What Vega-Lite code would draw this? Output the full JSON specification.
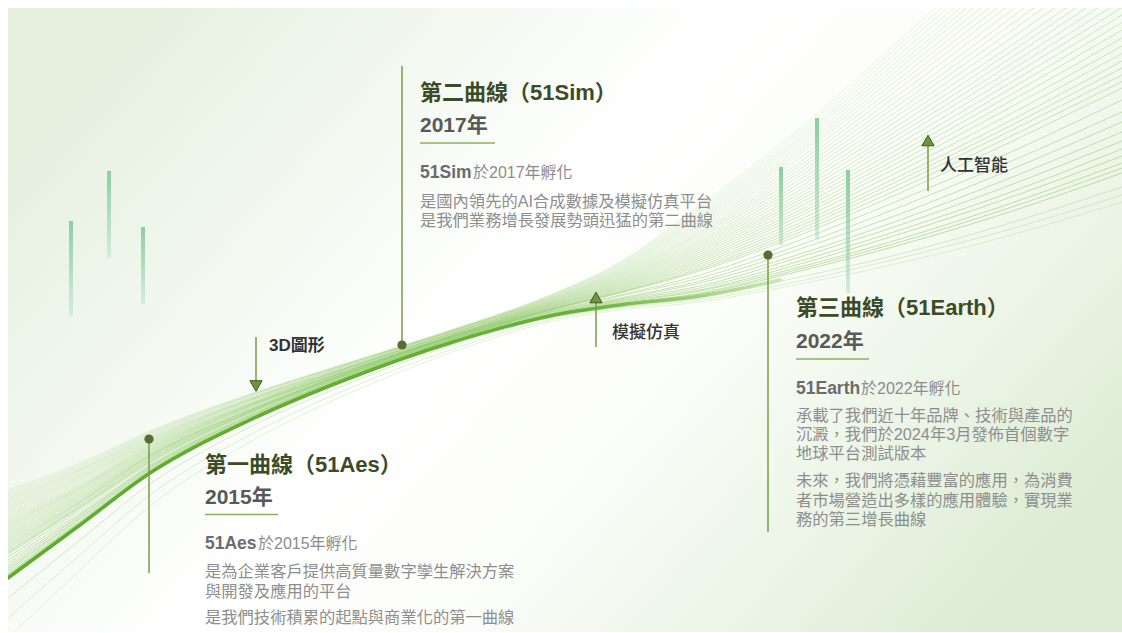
{
  "$schema": "https://vega.github.io/schema/vega-lite/v6.json",
  "width": 1122,
  "height": 633,
  "autosize": {"type": "fit", "contains": "padding"},
  "padding": {"left": 8, "top": 8, "right": 0, "bottom": 1},
  "background": "#ffffff",
  "config": {"view": {"stroke": null}},
  "datasets": {
    "panel": [{"x": 8, "x2": 1122, "y": 8, "y2": 632}],
    "curves": [
      {"g": "f01", "t": 0.02, "xs": [8,80,150,250,350,450,550,620,700,800,900,1000,1122], "ys": [576,524,472,420,378,343,316,304,294,271,245,215,173]},
      {"g": "f01b", "t": 0.035, "xs": [8,80,150,250,350,450,550,620,700,800,900,1000,1122], "ys": [575,523,472,419,377,343,315,304,293,269,242,211,168]},
      {"g": "f02", "t": 0.05, "xs": [8,80,150,250,350,450,550,620,700,800,900,1000,1122], "ys": [574,522,471,419,377,342,315,303,291,267,239,207,163]},
      {"g": "f02b", "t": 0.07, "xs": [8,80,150,250,350,450,550,620,700,800,900,1000,1122], "ys": [572,521,470,418,377,342,315,302,290,264,234,201,156]},
      {"g": "f03", "t": 0.09, "xs": [8,80,150,250,350,450,550,620,700,800,900,1000,1122], "ys": [570,519,469,418,377,342,314,301,288,261,230,196,149]},
      {"g": "f03b", "t": 0.115, "xs": [8,80,150,250,350,450,550,620,700,800,900,1000,1122], "ys": [568,518,468,417,376,342,314,300,286,257,225,189,141]},
      {"g": "f04", "t": 0.14, "xs": [8,80,150,250,350,450,550,620,700,800,900,1000,1122], "ys": [566,516,467,416,376,341,313,299,283,254,220,182,132]},
      {"g": "f04b", "t": 0.17, "xs": [8,80,150,250,350,450,550,620,700,800,900,1000,1122], "ys": [563,515,466,416,375,341,312,298,281,249,214,174,122]},
      {"g": "f05", "t": 0.2, "xs": [8,80,150,250,350,450,550,620,700,800,900,1000,1122], "ys": [560,513,465,415,375,340,312,296,278,245,207,166,112]},
      {"g": "f05b", "t": 0.235, "xs": [8,80,150,250,350,450,550,620,700,800,900,1000,1122], "ys": [557,510,463,414,374,340,311,295,275,240,200,157,100]},
      {"g": "f06", "t": 0.27, "xs": [8,80,150,250,350,450,550,620,700,800,900,1000,1122], "ys": [554,508,462,413,374,340,310,293,271,235,193,147,88]},
      {"g": "f06a", "t": 0.29, "xs": [8,80,150,250,350,450,550,620,700,800,900,1000,1122], "ys": [552.5,507,461,412.5,373.5,339.5,310,292.5,269.5,232,188.5,141.5,81.5]},
      {"g": "f06b", "t": 0.31, "xs": [8,80,150,250,350,450,550,620,700,800,900,1000,1122], "ys": [551,506,460,412,373,339,310,292,268,229,184,136,75]},
      {"g": "f06c", "t": 0.33, "xs": [8,80,150,250,350,450,550,620,700,800,900,1000,1122], "ys": [549,504.5,459,411.5,372.5,338.5,309.5,291,266,226,180,131,68]},
      {"g": "f07", "t": 0.35, "xs": [8,80,150,250,350,450,550,620,700,800,900,1000,1122], "ys": [547,503,458,411,372,338,309,290,264,223,176,126,61]},
      {"g": "f07a", "t": 0.3725, "xs": [8,80,150,250,350,450,550,620,700,800,900,1000,1122], "ys": [545,502,457,410.5,372,338,308.5,289,262,219.5,171,119.5,53.5]},
      {"g": "f07b", "t": 0.395, "xs": [8,80,150,250,350,450,550,620,700,800,900,1000,1122], "ys": [543,501,456,410,372,338,308,288,260,216,166,113,46]},
      {"g": "f07c", "t": 0.4175, "xs": [8,80,150,250,350,450,550,620,700,800,900,1000,1122], "ys": [541,499.5,455.5,409.5,371.5,337.5,307.5,287,258,213,161.5,107,38]},
      {"g": "f08", "t": 0.44, "xs": [8,80,150,250,350,450,550,620,700,800,900,1000,1122], "ys": [539,498,455,409,371,337,307,286,256,210,157,101,30]},
      {"g": "f08a", "t": 0.4625, "xs": [8,80,150,250,350,450,550,620,700,800,900,1000,1122], "ys": [537,496.5,454,408,370.5,337,306.5,285,254,206.5,152.5,95,22.5]},
      {"g": "f08b", "t": 0.485, "xs": [8,80,150,250,350,450,550,620,700,800,900,1000,1122], "ys": [535,495,453,407,370,337,306,284,252,203,148,89,15]},
      {"g": "f08c", "t": 0.5075, "xs": [8,80,150,250,350,450,550,620,700,800,900,1000,1122], "ys": [533,493.5,452,406.5,370,336.5,305.5,283,250,200,143,83,7.5]},
      {"g": "f09", "t": 0.53, "xs": [8,80,150,250,350,450,550,620,700,800,900,1000,1122], "ys": [531,492,451,406,370,336,305,282,248,197,138,77,0]},
      {"g": "f09a", "t": 0.5525, "xs": [8,80,150,250,350,450,550,620,700,800,900,1000,1122], "ys": [529,490.5,450,405.5,369.5,336,304.5,281,246,193.5,133.5,71,-8]},
      {"g": "f09b", "t": 0.575, "xs": [8,80,150,250,350,450,550,620,700,800,900,1000,1122], "ys": [527,489,449,405,369,336,304,280,244,190,129,65,-16]},
      {"g": "f09c", "t": 0.5975, "xs": [8,80,150,250,350,450,550,620,700,800,900,1000,1122], "ys": [525,488,448,404.5,368.5,335.5,303.5,279,242,186.5,124,59,-23.5]},
      {"g": "f10", "t": 0.62, "xs": [8,80,150,250,350,450,550,620,700,800,900,1000,1122], "ys": [523,487,447,404,368,335,303,278,240,183,119,53,-31]},
      {"g": "f10a", "t": 0.645, "xs": [8,80,150,250,350,450,550,620,700,800,900,1000,1122], "ys": [521,485.5,446,403.5,367.5,334.5,302.5,277,237.5,179.5,114,46,-39.5]},
      {"g": "f10b", "t": 0.67, "xs": [8,80,150,250,350,450,550,620,700,800,900,1000,1122], "ys": [519,484,445,403,367,334,302,276,235,176,109,39,-48]},
      {"g": "f10c", "t": 0.695, "xs": [8,80,150,250,350,450,550,620,700,800,900,1000,1122], "ys": [517,482,444,402,367,334,301.5,275,233,172.5,104,32.5,-56.5]},
      {"g": "f11", "t": 0.72, "xs": [8,80,150,250,350,450,550,620,700,800,900,1000,1122], "ys": [515,480,443,401,367,334,301,274,231,169,99,26,-65]},
      {"g": "f11a", "t": 0.745, "xs": [8,80,150,250,350,450,550,620,700,800,900,1000,1122], "ys": [512.5,478.5,442,400.5,366.5,333.5,300.5,273,228.5,165.5,93.5,19,-73.5]},
      {"g": "f11b", "t": 0.77, "xs": [8,80,150,250,350,450,550,620,700,800,900,1000,1122], "ys": [510,477,441,400,366,333,300,272,226,162,88,12,-82]},
      {"g": "f11c", "t": 0.795, "xs": [8,80,150,250,350,450,550,620,700,800,900,1000,1122], "ys": [508,475.5,440,399.5,365.5,332.5,299.5,271,223.5,158,83,5.5,-90.5]},
      {"g": "f12", "t": 0.82, "xs": [8,80,150,250,350,450,550,620,700,800,900,1000,1122], "ys": [506,474,439,399,365,332,299,270,221,154,78,-1,-99]},
      {"g": "f12a", "t": 0.8425, "xs": [8,80,150,250,350,450,550,620,700,800,900,1000,1122], "ys": [504,472.5,438,398.5,364.5,332,298.5,269,219,151,73,-7.5,-106.5]},
      {"g": "f12b", "t": 0.865, "xs": [8,80,150,250,350,450,550,620,700,800,900,1000,1122], "ys": [502,471,437,398,364,332,298,268,217,148,68,-14,-114]},
      {"g": "f12c", "t": 0.8875, "xs": [8,80,150,250,350,450,550,620,700,800,900,1000,1122], "ys": [500,470,436,397,363.5,331.5,297.5,267,215,144.5,63.5,-20,-121.5]},
      {"g": "f13", "t": 0.91, "xs": [8,80,150,250,350,450,550,620,700,800,900,1000,1122], "ys": [498,469,435,396,363,331,297,266,213,141,59,-26,-129]},
      {"g": "f13a", "t": 0.9325, "xs": [8,80,150,250,350,450,550,620,700,800,900,1000,1122], "ys": [496,467.5,434,395.5,363,331,296.5,265,211,138,54,-32,-137]},
      {"g": "f13b", "t": 0.955, "xs": [8,80,150,250,350,450,550,620,700,800,900,1000,1122], "ys": [494,466,433,395,363,331,296,264,209,135,49,-38,-145]},
      {"g": "f13c", "t": 0.9775, "xs": [8,80,150,250,350,450,550,620,700,800,900,1000,1122], "ys": [492,464.5,432,394.5,362.5,330.5,295.5,263,207,131.5,44.5,-44,-152.5]},
      {"g": "f14", "t": 1.0, "xs": [8,80,150,250,350,450,550,620,700,800,900,1000,1122], "ys": [490,463,431,394,362,330,295,262,205,128,40,-50,-160]},
      {"g": "l1", "t": 0.6, "xs": [8,80,150,250,350,450,550,620,700,800,900,1000,1122], "ys": [598,540,484,427,383,346,318,307,298,277,254,226,187]},
      {"g": "l2", "t": 0.75, "xs": [8,80,150,250,350,450,550,620,700,800,900,1000,1122], "ys": [618,555,495,435,388,350,320,308,300,281,258,232,195]},
      {"g": "l3", "t": 0.9, "xs": [8,80,150,250,350,450,550,620,700,800,900,1000,1122], "ys": [638,570,506,442,393,353,322,310,302,284,263,238,202]}
    ],
    "core": [
      {"g": "core", "xs": [8,80,150,250,350,450,550,620,700,780], "ys": [578,525,473,420,378,343,316,305,296,280]}
    ],
    "bars": [
      {"x": 71, "y": 221, "y2": 316},
      {"x": 109, "y": 171, "y2": 258},
      {"x": 143, "y": 227, "y2": 304},
      {"x": 781, "y": 167, "y2": 245},
      {"x": 817, "y": 118, "y2": 239},
      {"x": 848, "y": 170, "y2": 293}
    ],
    "stems": [
      {"kind": "timeline", "x": 149, "y": 439, "y2": 573},
      {"kind": "timeline", "x": 402, "y": 66, "y2": 345},
      {"kind": "timeline", "x": 768, "y": 255, "y2": 532},
      {"kind": "arrow", "x": 256, "y": 337, "y2": 381},
      {"kind": "arrow", "x": 596, "y": 302, "y2": 347},
      {"kind": "arrow", "x": 928, "y": 146, "y2": 191}
    ],
    "underlines": [
      {"x": 420, "x2": 495, "y": 143},
      {"x": 796, "x2": 869, "y": 359},
      {"x": 205, "x2": 278, "y": 514.5}
    ],
    "dots": [
      {"name": "51Aes", "x": 149, "y": 439},
      {"name": "51Sim", "x": 402, "y": 345},
      {"name": "51Earth", "x": 768, "y": 255}
    ],
    "heads": [
      {"label": "3D圖形", "dir": "down", "x": 256, "y": 386},
      {"label": "模擬仿真", "dir": "up", "x": 596, "y": 297.5},
      {"label": "人工智能", "dir": "up", "x": 928, "y": 140.5}
    ],
    "texts": [
      {"k": "title", "x": 420, "y": 93, "text": "第二曲線（51Sim）"},
      {"k": "year", "x": 420, "y": 125.5, "text": "2017年"},
      {"k": "lead", "x": 420, "y": 173, "text": "51Sim"},
      {"k": "rest", "x": 473, "y": 173, "text": "於2017年孵化"},
      {"k": "body", "x": 420, "y": 201.5, "text": "是國內領先的AI合成數據及模擬仿真平台"},
      {"k": "body", "x": 420, "y": 221, "text": "是我們業務增長發展勢頭迅猛的第二曲線"},
      {"k": "title", "x": 796, "y": 308, "text": "第三曲線（51Earth）"},
      {"k": "year", "x": 796, "y": 341.5, "text": "2022年"},
      {"k": "lead", "x": 796, "y": 389, "text": "51Earth"},
      {"k": "rest", "x": 861, "y": 389, "text": "於2022年孵化"},
      {"k": "body", "x": 796, "y": 415.5, "text": "承載了我們近十年品牌、技術與產品的"},
      {"k": "body", "x": 796, "y": 435, "text": "沉澱，我們於2024年3月發佈首個數字"},
      {"k": "body", "x": 796, "y": 454, "text": "地球平台測試版本"},
      {"k": "body", "x": 796, "y": 481, "text": "未來，我們將憑藉豐富的應用，為消費"},
      {"k": "body", "x": 796, "y": 500.5, "text": "者市場營造出多樣的應用體驗，實現業"},
      {"k": "body", "x": 796, "y": 520, "text": "務的第三增長曲線"},
      {"k": "title", "x": 205, "y": 465, "text": "第一曲線（51Aes）"},
      {"k": "year", "x": 205, "y": 497.5, "text": "2015年"},
      {"k": "lead", "x": 205, "y": 544, "text": "51Aes"},
      {"k": "rest", "x": 258, "y": 544, "text": "於2015年孵化"},
      {"k": "body", "x": 205, "y": 572, "text": "是為企業客戶提供高質量數字孿生解決方案"},
      {"k": "body", "x": 205, "y": 591.5, "text": "與開發及應用的平台"},
      {"k": "body", "x": 205, "y": 618, "text": "是我們技術積累的起點與商業化的第一曲線"},
      {"k": "labelb", "x": 269, "y": 346, "text": "3D圖形"},
      {"k": "label", "x": 612, "y": 333, "text": "模擬仿真"},
      {"k": "label", "x": 940, "y": 166, "text": "人工智能"}
    ]
  },
  "encoding": {
    "x": {"field": "x", "type": "quantitative", "scale": {"domain": [8, 1122], "nice": false, "zero": false, "padding": 0}, "axis": null},
    "y": {"field": "y", "type": "quantitative", "scale": {"domain": [8, 632], "nice": false, "zero": false, "reverse": true, "padding": 0}, "axis": null}
  },
  "layer": [
    {
      "data": {"name": "panel"},
      "mark": {"type": "rect", "color": {"gradient": "linear", "x1": 0, "y1": 0.25, "x2": 1, "y2": 0.75, "stops": [{"offset": 0, "color": "#e5f0df"}, {"offset": 0.42, "color": "#ffffff"}, {"offset": 0.62, "color": "#fbfdf9"}, {"offset": 1, "color": "#dcecd4"}]}},
      "encoding": {"x2": {"field": "x2"}, "y2": {"field": "y2"}}
    },
    {
      "data": {"name": "bars"},
      "mark": {"type": "bar", "width": 4, "color": {"gradient": "linear", "x1": 0, "y1": 0, "x2": 0, "y2": 1, "stops": [{"offset": 0, "color": "#8ccfa4"}, {"offset": 1, "color": "#d4ecdc"}]}},
      "encoding": {"y2": {"field": "y2"}}
    },
    {
      "data": {"name": "curves"},
      "transform": [{"flatten": ["xs", "ys"], "as": ["x", "y"]}],
      "mark": {"type": "line", "clip": true, "interpolate": "monotone", "strokeWidth": 0.6, "color": "#86c35b"},
      "encoding": {
        "detail": {"field": "g", "type": "nominal"},
        "opacity": {"field": "t", "type": "quantitative", "scale": {"domain": [0, 1], "range": [0.85, 0.3]}, "legend": null},
        "order": {"field": "x", "type": "quantitative"}
      }
    },
    {
      "data": {"name": "core"},
      "transform": [{"flatten": ["xs", "ys"], "as": ["x", "y"]}],
      "mark": {"type": "line", "clip": true, "interpolate": "monotone", "strokeWidth": 3.5, "strokeCap": "round", "color": {"gradient": "linear", "x1": 0, "y1": 0, "x2": 1, "y2": 0, "stops": [{"offset": 0, "color": "#5fab2e"}, {"offset": 0.75, "color": "#67b236"}, {"offset": 1, "color": "#cbe8b5"}]}},
      "encoding": {"order": {"field": "x", "type": "quantitative"}}
    },
    {
      "data": {"name": "stems"},
      "mark": {"type": "rule", "color": "#7a9b46", "strokeWidth": 1.5},
      "encoding": {"y2": {"field": "y2"}}
    },
    {
      "data": {"name": "underlines"},
      "mark": {"type": "rule", "color": "#8fae5c", "strokeWidth": 1.5},
      "encoding": {"x2": {"field": "x2"}}
    },
    {
      "data": {"name": "heads"},
      "mark": {"type": "point", "filled": true, "size": 150, "color": "#6d973b", "stroke": "#3f5521", "strokeWidth": 1, "opacity": 1},
      "encoding": {"shape": {"field": "dir", "type": "nominal", "scale": {"domain": ["down", "up"], "range": ["triangle-down", "triangle-up"]}, "legend": null}}
    },
    {
      "data": {"name": "dots"},
      "mark": {"type": "point", "filled": true, "shape": "circle", "size": 85, "color": "#5a6c34", "opacity": 1}
    },
    {
      "data": {"name": "texts"},
      "transform": [{"filter": "datum.k == 'title'"}],
      "mark": {"type": "text", "align": "left", "baseline": "middle", "font": "Liberation Sans, Noto Sans CJK TC", "fontSize": 22, "fontWeight": "bold", "color": "#3c4b27"},
      "encoding": {"text": {"field": "text"}}
    },
    {
      "data": {"name": "texts"},
      "transform": [{"filter": "datum.k == 'year'"}],
      "mark": {"type": "text", "align": "left", "baseline": "middle", "font": "Liberation Sans, Noto Sans CJK TC", "fontSize": 21, "fontWeight": "bold", "color": "#595959"},
      "encoding": {"text": {"field": "text"}}
    },
    {
      "data": {"name": "texts"},
      "transform": [{"filter": "datum.k == 'lead'"}],
      "mark": {"type": "text", "align": "left", "baseline": "middle", "font": "Liberation Sans, Noto Sans CJK TC", "fontSize": 17.5, "fontWeight": "bold", "color": "#6c6c6c"},
      "encoding": {"text": {"field": "text"}}
    },
    {
      "data": {"name": "texts"},
      "transform": [{"filter": "datum.k == 'rest'"}],
      "mark": {"type": "text", "align": "left", "baseline": "middle", "font": "Liberation Sans, Noto Sans CJK TC", "fontSize": 16, "color": "#8c8c8c"},
      "encoding": {"text": {"field": "text"}}
    },
    {
      "data": {"name": "texts"},
      "transform": [{"filter": "datum.k == 'body'"}],
      "mark": {"type": "text", "align": "left", "baseline": "middle", "font": "Liberation Sans, Noto Sans CJK TC", "fontSize": 16.3, "color": "#8e8e8e"},
      "encoding": {"text": {"field": "text"}}
    },
    {
      "data": {"name": "texts"},
      "transform": [{"filter": "datum.k == 'labelb'"}],
      "mark": {"type": "text", "align": "left", "baseline": "middle", "font": "Liberation Sans, Noto Sans CJK TC", "fontSize": 17, "fontWeight": "bold", "color": "#333333"},
      "encoding": {"text": {"field": "text"}}
    },
    {
      "data": {"name": "texts"},
      "transform": [{"filter": "datum.k == 'label'"}],
      "mark": {"type": "text", "align": "left", "baseline": "middle", "font": "Noto Sans CJK TC", "fontSize": 17, "fontWeight": 500, "color": "#333333"},
      "encoding": {"text": {"field": "text"}}
    }
  ]
}
